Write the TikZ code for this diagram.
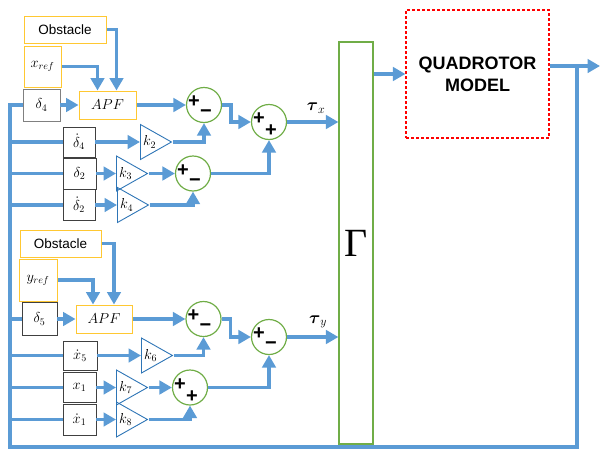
\documentclass[tikz,border=0pt]{standalone}
\usepackage{amsmath}
\usepackage{fontspec}
\setmainfont{Liberation Sans}
\newfontfamily\gamfont{Liberation Serif}
\usetikzlibrary{arrows.meta,shapes.geometric}
\definecolor{wireblue}{RGB}{91,155,213}
\definecolor{refgold}{RGB}{255,200,50}
\definecolor{sumgreen}{RGB}{112,173,71}
\definecolor{gainblue}{RGB}{46,117,182}
\definecolor{boxgray}{RGB}{64,64,64}
\newcommand{\msize}{\fontsize{14.4}{17}\selectfont}
\begin{document}
\begin{tikzpicture}[x=1pt,y=-1pt,
    wire/.style={wireblue, line width=3.4pt},
    flow/.style={wire, -{Triangle[length=12.5pt,width=13.5pt]}},
    ref/.style={draw=refgold, line width=1pt, inner sep=0pt, font=\msize},
    blk/.style={draw=boxgray, line width=0.9pt, inner sep=0pt, font=\msize},
    gain/.style={draw=gainblue, line width=0.9pt, isosceles triangle,
      isosceles triangle stretches, minimum width=35pt, minimum height=31pt,
      inner sep=0pt, anchor=west},
    sum/.style={draw=sumgreen, line width=1.2pt, circle, minimum size=35pt, inner sep=0pt},
    sgn/.style={font=\fontsize{20}{20}\selectfont\bfseries, inner sep=0pt},
    pm/.style={label={[sgn,xshift=-10pt,yshift=3pt]center:+},
      label={[sgn,xshift=2pt,yshift=-9pt]center:−}},
    pp/.style={label={[sgn,xshift=-10pt,yshift=3pt]center:+},
      label={[sgn,xshift=2pt,yshift=-9pt]center:+}}]
  \useasboundingbox (0,0) rectangle (600,453);

  % x channel
  \node[ref, minimum width=82pt, minimum height=27pt, font=\fontsize{13.5}{16}\selectfont]
    (obsx) at (65,29.5) {Obstacle};
  \node[ref, minimum width=37pt, minimum height=41pt] (xref) at (42.5,66.5) {$x_{ref}$};
  \node[blk, draw=gray, minimum width=37pt, minimum height=32pt] (dfour) at (41.5,105) {$\delta_4$};
  \node[ref, minimum width=57pt, minimum height=28pt] (apfx) at (107.5,105) {$APF$};
  \node[sum, pm] (sumone) at (204,105) {};
  \node[sum, pp] (sumtwo) at (269,122) {};
  \node[blk, minimum width=32pt, minimum height=30pt] (ddfour) at (79,142) {$\dot\delta_4$};
  \node[blk, minimum width=33pt, minimum height=31pt] (dtwo) at (79.5,173.5) {$\delta_2$};
  \node[blk, minimum width=32pt, minimum height=31pt] (ddtwo) at (79,205) {$\dot\delta_2$};
  \node[gain, label={[anchor=west,inner sep=1pt,xshift=2pt,font=\msize]west:$k_2$}] (ktwo) at (140,142) {};
  \node[gain, label={[anchor=west,inner sep=1pt,xshift=2pt,font=\msize]west:$k_3$}] (kthree) at (116,173.5) {};
  \node[gain, label={[anchor=west,inner sep=1pt,xshift=2pt,font=\msize]west:$k_4$}] (kfour) at (117,205) {};
  \node[sum, pm] (sumthree) at (193,173.5) {};

  % y channel
  \node[ref, minimum width=81pt, minimum height=27pt, font=\fontsize{13.5}{16}\selectfont]
    (obsy) at (60.5,243.5) {Obstacle};
  \node[ref, minimum width=38pt, minimum height=42pt] (yref) at (38,280) {$y_{ref}$};
  \node[blk, minimum width=35pt, minimum height=33pt] (dfive) at (39.5,319) {$\delta_5$};
  \node[ref, minimum width=56pt, minimum height=28pt] (apfy) at (104,319) {$APF$};
  \node[sum, pm] (sumfour) at (203.5,319) {};
  \node[sum, pm] (sumfive) at (269,337) {};
  \node[blk, minimum width=34pt, minimum height=29pt] (ddxfive) at (80,355.5) {$\dot x_5$};
  \node[blk, minimum width=33pt, minimum height=30pt] (xone) at (79.5,387.5) {$x_1$};
  \node[blk, minimum width=33pt, minimum height=31pt] (dxone) at (79.5,419.5) {$\dot x_1$};
  \node[gain, label={[anchor=west,inner sep=1pt,xshift=2pt,font=\msize]west:$k_6$}] (ksix) at (141,355.5) {};
  \node[gain, label={[anchor=west,inner sep=1pt,xshift=2pt,font=\msize]west:$k_7$}] (kseven) at (116,387.5) {};
  \node[gain, label={[anchor=west,inner sep=1pt,xshift=2pt,font=\msize]west:$k_8$}] (keight) at (116,419.5) {};
  \node[sum, pp] (sumsix) at (190,387.5) {};

  % plant
  \node[draw=sumgreen, line width=1.2pt, minimum width=34pt, minimum height=402pt,
    font=\gamfont\fontsize{40}{40}\selectfont] (gam) at (356,243) {Γ};
  \node[draw=red, line width=1.2pt, dash pattern=on 3pt off 2pt, minimum width=143pt,
    minimum height=128pt, align=center, font=\fontsize{18}{22}\selectfont\bfseries]
    (qm) at (477.5,74) {QUADROTOR\\MODEL};
  \node[font=\fontsize{17.28}{20}\selectfont] (taux) at (316,108) {$\boldsymbol{\tau}_x$};
  \node[font=\fontsize{17.28}{20}\selectfont] (tauy) at (318,322) {$\boldsymbol{\tau}_y$};
  \coordinate (yout) at (600,66);
  \coordinate (tap) at (577,66);
  \coordinate (fbl) at (10,447);

  \draw[flow] (obsx.east) -| ([xshift=9pt]apfx.north);
  \draw[flow] (xref.east) -| ([xshift=-10pt]apfx.north);
  \draw[flow] (dfour) -- (apfx);
  \draw[flow] (apfx) -- (sumone);
  \draw[flow] (sumone.east) -- ++(9,0) |- (sumtwo.west);
  \draw[flow] (ddfour) -- (ktwo);
  \draw[flow] (ktwo.east) -| (sumone.south);
  \draw[flow] (dtwo) -- (kthree);
  \draw[flow] (kthree.east) -- (sumthree.west);
  \draw[flow] (ddtwo) -- (kfour);
  \draw[flow] (kfour.east) -| (sumthree.south);
  \draw[flow] (sumthree.east) -| (sumtwo.south);
  \draw[flow] (sumtwo.east) -- (sumtwo.east -| gam.west);

  \draw[flow] (obsy.east) -| ([xshift=10pt]apfy.north);
  \draw[flow] (yref.east) -| ([xshift=-11pt]apfy.north);
  \draw[flow] (dfive) -- (apfy);
  \draw[flow] (apfy) -- (sumfour);
  \draw[flow] (sumfour.east) -- ++(9,0) |- (sumfive.west);
  \draw[flow] (ddxfive) -- (ksix);
  \draw[flow] (ksix.east) -| (sumfour.south);
  \draw[flow] (xone) -- (kseven);
  \draw[flow] (kseven.east) -- (sumsix.west);
  \draw[flow] (dxone) -- (keight);
  \draw[flow] (keight.east) -| (sumsix.south);
  \draw[flow] (sumsix.east) -| (sumfive.south);
  \draw[flow] (sumfive.east) -- (sumfive.east -| gam.west);

  \draw[flow] (gam.east |- qm.west) -- (qm.west);
  \draw[flow] (qm.east |- yout) -- (yout);

  % feedback bus
  \draw[wire] (tap) |- (fbl) |- (dfour.west);
  \draw[wire] (fbl |- ddfour.west) -- (ddfour.west);
  \draw[wire] (fbl |- dtwo.west) -- (dtwo.west);
  \draw[wire] (fbl |- ddtwo.west) -- (ddtwo.west);
  \draw[wire] (fbl |- dfive.west) -- (dfive.west);
  \draw[wire] (fbl |- ddxfive.west) -- (ddxfive.west);
  \draw[wire] (fbl |- xone.west) -- (xone.west);
  \draw[wire] (fbl |- dxone.west) -- (dxone.west);
\end{tikzpicture}
\end{document}
